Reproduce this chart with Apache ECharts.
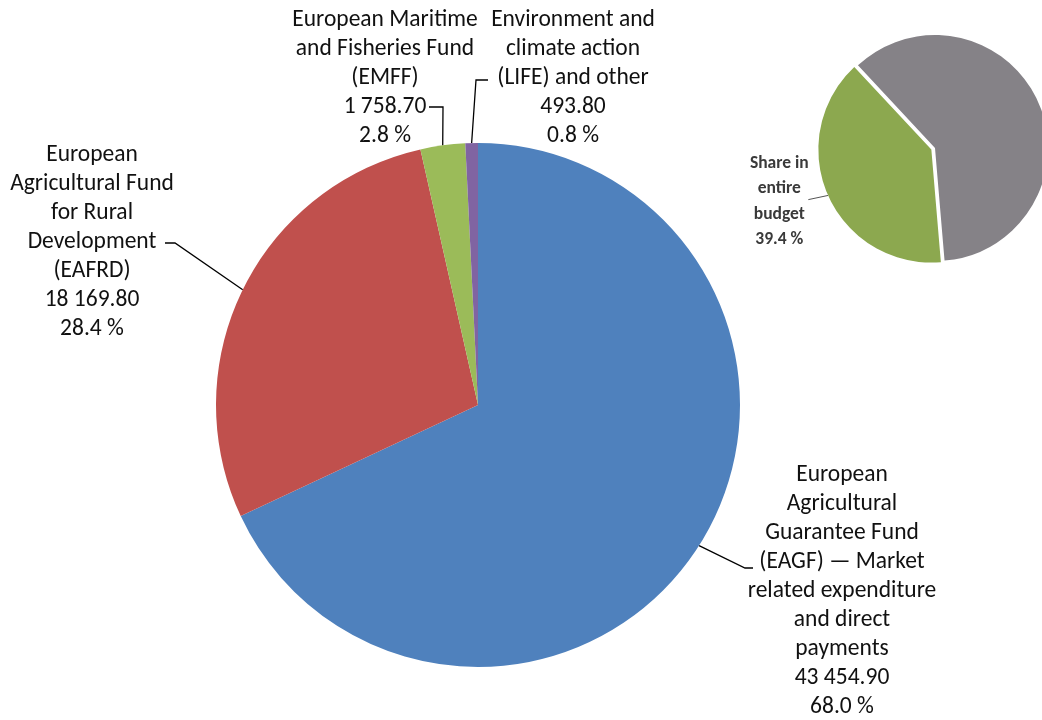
<!DOCTYPE html>
<html><head><meta charset="utf-8">
<script src="https://cdn.jsdelivr.net/npm/echarts@6/dist/echarts.min.js"></script>
<style>html,body{margin:0;padding:0;background:#fff}#c{width:1042px;height:720px}</style>
</head><body><div id="c"></div>
<script>
const categories = [
  "European\nAgricultural\nGuarantee Fund\n(EAGF) \u2014 Market\nrelated expenditure\nand direct\npayments",
  "European\nAgricultural Fund\nfor Rural\nDevelopment\n(EAFRD)",
  "European Maritime\nand Fisheries Fund\n(EMFF)",
  "Environment and\nclimate action\n(LIFE) and other"
];
const values = [43454.90, 18169.80, 1758.70, 493.80];
const valueLabels = ["43 454.90", "18 169.80", "1 758.70", "493.80"];
const percentLabels = ["68.0 %", "28.4 %", "2.8 %", "0.8 %"];
const colors = ["#4F81BD", "#C0504D", "#9BBB59", "#8064A2"];

const shareCategories = ["Rest of budget", "Share in\nentire\nbudget"];
const shareValues = [60.6, 39.4];
const sharePercent = ["60.6 %", "39.4 %"];
const shareColors = ["#858287", "#8CA84F"];

const FONT = "Carlito, Lato, 'Open Sans', sans-serif";

// label anchor positions (center of text block) and leader elbows
const mainLabelPos = [
  {x: 842, y: 591, elbow: [[745, 568], [753, 568]]},
  {x: 92,  y: 242, elbow: [[175, 243], [165, 243]]},
  {x: 385, y: 78,  elbow: [[443, 107], [429, 107]]},
  {x: 573, y: 78,  elbow: [[476, 80], [488, 80]]}
];

const chart = echarts.init(document.getElementById('c'), null, {renderer: 'canvas'});
chart.setOption({
  animation: false,
  backgroundColor: '#fff',
  series: [
    {
      type: 'pie',
      center: [478, 405],
      radius: 262,
      startAngle: 90,
      clockwise: true,
      avoidLabelOverlap: false,
      itemStyle: {borderWidth: 0},
      emphasis: {disabled: true},
      data: categories.map((c, i) => ({
        name: c, value: values[i],
        itemStyle: {color: colors[i]},
        label: {formatter: c + "\n" + valueLabels[i] + "\n" + percentLabels[i]}
      })),
      label: {
        show: true, position: 'outside', color: '#111',
        fontFamily: FONT, fontSize: 23.5, lineHeight: 29, align: 'center'
      },
      labelLine: {show: true, lineStyle: {color: '#000', width: 1.3}},
      labelLayout: function (p) {
        const pos = mainLabelPos[p.dataIndex];
        const start = p.labelLinePoints ? p.labelLinePoints[0] : pos.elbow[0];
        return {
          x: pos.x, y: pos.y, align: 'center', verticalAlign: 'middle',
          labelLinePoints: [start, pos.elbow[0], pos.elbow[1]]
        };
      }
    },
    {
      type: 'pie',
      center: [935, 148],
      radius: 113,
      startAngle: 133,
      clockwise: true,
      selectedMode: 'single',
      selectedOffset: 4,
      avoidLabelOverlap: false,
      emphasis: {disabled: true},
      itemStyle: {borderWidth: 0},
      data: shareCategories.map((c, i) => ({
        name: c, value: shareValues[i], selected: i === 1,
        itemStyle: {color: shareColors[i]},
        label: i === 1 ? {show: true, formatter: c + "\n" + sharePercent[i]} : {show: false},
        labelLine: {show: i === 1}
      })),
      label: {
        position: 'outside', color: '#3a3a3a', fontFamily: FONT,
        fontSize: 17.5, fontWeight: 'bold', lineHeight: 25.5, align: 'center'
      },
      labelLine: {lineStyle: {color: '#555', width: 1}},
      labelLayout: function (p) {
        if (p.dataIndex !== 1) return {};
        const start = p.labelLinePoints ? p.labelLinePoints[0] : [825, 197];
        return {
          x: 776, y: 230, align: 'center', verticalAlign: 'middle',
          labelLinePoints: [start, [812, 198]]
        };
      }
    }
  ]
});
</script></body></html>
